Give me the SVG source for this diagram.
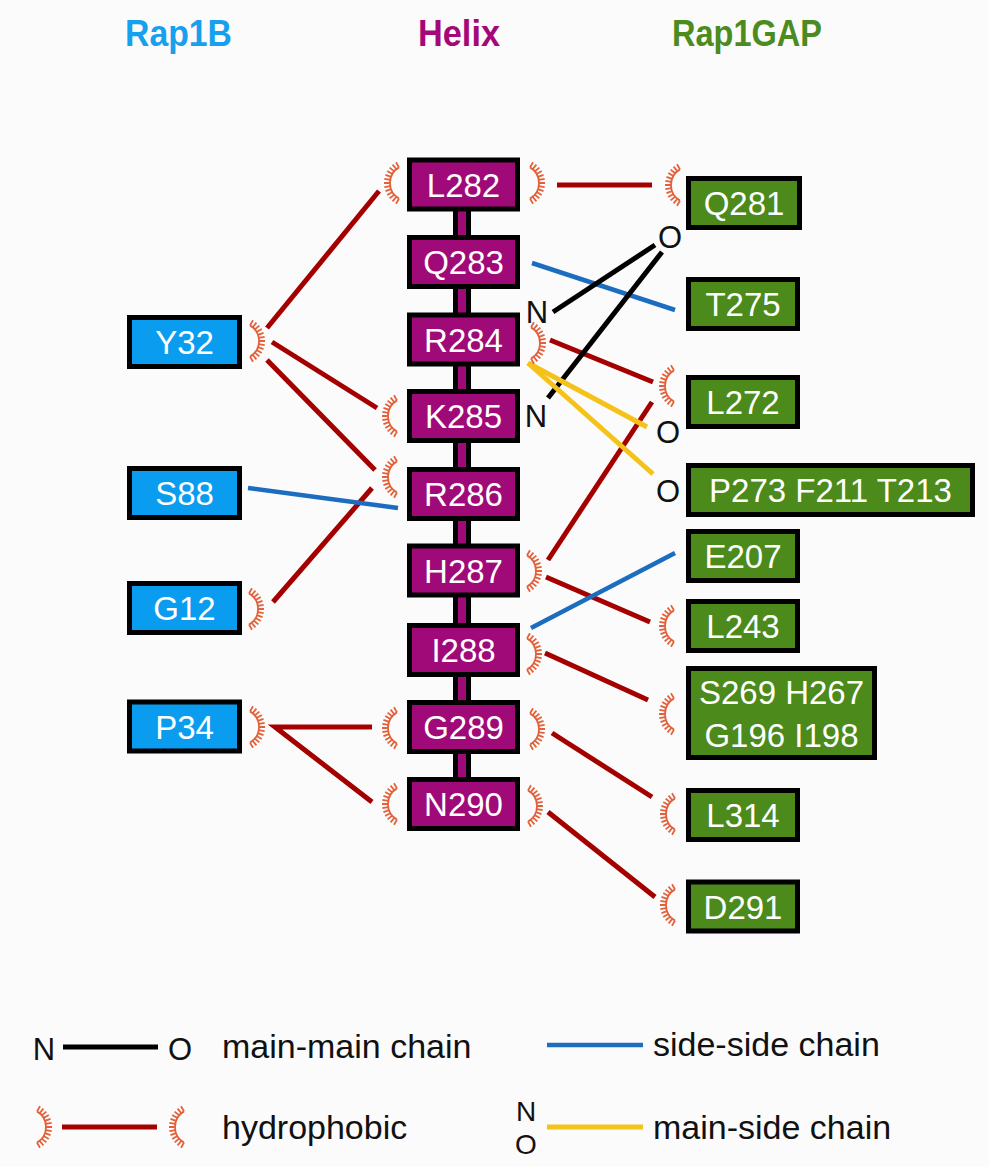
<svg xmlns="http://www.w3.org/2000/svg" xmlns:xlink="http://www.w3.org/1999/xlink" width="989" height="1167" viewBox="0 0 989 1167">
  <style>
    .hdr { font-family: "Liberation Sans", Arial, sans-serif; font-weight: bold; font-size: 36px; }
    .lbl { font-family: "Liberation Sans", Arial, sans-serif; font-size: 33px; fill: #ffffff; text-anchor: middle; }
    .atom { font-family: "Liberation Sans", Arial, sans-serif; font-size: 31px; fill: #111111; text-anchor: middle; }
    .atom-s { font-family: "Liberation Sans", Arial, sans-serif; font-size: 28px; fill: #111111; text-anchor: middle; }
    .leg { font-family: "Liberation Sans", Arial, sans-serif; font-size: 34px; fill: #111111; }
    .box { stroke: #000000; stroke-width: 5; }
    .rap { fill: #0a9cef; }
    .hel { fill: #a00a78; }
    .gap { fill: #4b8a1b; }
    .hyd { fill: none; stroke: #e2613a; stroke-width: 1.8; }
    .hp { stroke: #a50000; stroke-width: 5; fill: none; }
    .ss { stroke: #1c6cc0; stroke-width: 4.5; fill: none; }
    .mm { stroke: #000000; stroke-width: 5; fill: none; }
    .ms { stroke: #f5c21a; stroke-width: 5; fill: none; }
  </style>
  <defs>
    <!-- hydrophobic contact: arc with spokes, opening to the right -->
    <g id="hyd" class="hyd">
      <path d="M9,-15.6 A18,18 0 0 0 9,15.6"/>
      <path d="M0,0 H-6 M0.27,3.13 L-5.64,4.17 M0.27,-3.13 L-5.64,-4.17 M1.09,6.16 L-4.55,8.21 M1.09,-6.16 L-4.55,-8.21 M2.41,9 L-2.78,12 M2.41,-9 L-2.78,-12 M4.21,11.57 L-0.38,15.43 M4.21,-11.57 L-0.38,-15.43 M6.43,13.79 L2.57,18.38 M6.43,-13.79 L2.57,-18.38 M9,15.59 L6,20.78 M9,-15.59 L6,-20.78"/>
    </g>
  </defs>

  <rect width="989" height="1167" fill="#fbfbfb"/>

  <!-- column headings -->
  <g id="headings">
    <text class="hdr" x="125" y="46" fill="#17a0ee" textLength="107" lengthAdjust="spacingAndGlyphs">Rap1B</text>
    <text class="hdr" x="418" y="46" fill="#a5077a" textLength="82" lengthAdjust="spacingAndGlyphs">Helix</text>
    <text class="hdr" x="672" y="46" fill="#4b8b20" textLength="150" lengthAdjust="spacingAndGlyphs">Rap1GAP</text>
  </g>

  <!-- helix backbone -->
  <rect x="455.5" y="200" width="13" height="590" class="box hel"/>

  <g id="connectors">
    <!-- hydrophobic contacts -->
    <line class="hp" x1="557" y1="185" x2="652" y2="185"/>
    <line class="hp" x1="267" y1="328" x2="379" y2="191"/>
    <line class="hp" x1="272" y1="342" x2="377" y2="408"/>
    <line class="hp" x1="267" y1="360" x2="375" y2="470"/>
    <line class="hp" x1="273" y1="602" x2="372" y2="488"/>
    <line class="hp" x1="550" y1="340" x2="653" y2="382"/>
    <line class="hp" x1="548" y1="560" x2="652" y2="402"/>
    <line class="hp" x1="546" y1="577" x2="650" y2="622"/>
    <line class="hp" x1="545" y1="653" x2="648" y2="700"/>
    <polyline class="hp" points="372,727 275,727 372,802"/>
    <line class="hp" x1="552" y1="733" x2="652" y2="797"/>
    <line class="hp" x1="548" y1="812" x2="655" y2="897"/>
    <!-- side-side chain -->
    <line class="ss" x1="532" y1="263" x2="675" y2="310"/>
    <line class="ss" x1="248" y1="488" x2="398" y2="508"/>
    <line class="ss" x1="531" y1="628" x2="675" y2="553"/>
    <!-- main-main chain -->
    <line class="mm" x1="553" y1="312" x2="655" y2="245"/>
    <line class="mm" x1="548" y1="398" x2="662" y2="252"/>
    <!-- main-side chain -->
    <line class="ms" x1="528" y1="363" x2="647" y2="427"/>
    <line class="ms" x1="528" y1="363" x2="653" y2="474"/>

    <!-- atom labels -->
    <text class="atom" x="537" y="323">N</text>
    <text class="atom" x="536" y="427">N</text>
    <text class="atom" x="670" y="248">O</text>
    <text class="atom" x="668" y="443">O</text>
    <text class="atom" x="668" y="502">O</text>

    <!-- hydrophobic arcs opening right -->
    <use xlink:href="#hyd" href="#hyd" transform="translate(390,183)"/>
    <use xlink:href="#hyd" href="#hyd" transform="translate(388,416)"/>
    <use xlink:href="#hyd" href="#hyd" transform="translate(388,477)"/>
    <use xlink:href="#hyd" href="#hyd" transform="translate(388,728)"/>
    <use xlink:href="#hyd" href="#hyd" transform="translate(388,804)"/>
    <use xlink:href="#hyd" href="#hyd" transform="translate(671,185)"/>
    <use xlink:href="#hyd" href="#hyd" transform="translate(665,386)"/>
    <use xlink:href="#hyd" href="#hyd" transform="translate(665,626)"/>
    <use xlink:href="#hyd" href="#hyd" transform="translate(665,714)"/>
    <use xlink:href="#hyd" href="#hyd" transform="translate(666,814)"/>
    <use xlink:href="#hyd" href="#hyd" transform="translate(666,905)"/>
    <!-- hydrophobic arcs opening left -->
    <use xlink:href="#hyd" href="#hyd" transform="translate(259,341) scale(-1,1)"/>
    <use xlink:href="#hyd" href="#hyd" transform="translate(258,609) scale(-1,1)"/>
    <use xlink:href="#hyd" href="#hyd" transform="translate(259,727) scale(-1,1)"/>
    <use xlink:href="#hyd" href="#hyd" transform="translate(539,183) scale(-1,1)"/>
    <use xlink:href="#hyd" href="#hyd" transform="translate(540,343) scale(-1,1)"/>
    <use xlink:href="#hyd" href="#hyd" transform="translate(536,571) scale(-1,1)"/>
    <use xlink:href="#hyd" href="#hyd" transform="translate(536,654) scale(-1,1)"/>
    <use xlink:href="#hyd" href="#hyd" transform="translate(539,729) scale(-1,1)"/>
    <use xlink:href="#hyd" href="#hyd" transform="translate(537,806) scale(-1,1)"/>
  </g>

  <!-- Rap1B residues -->
  <g id="Y32"><rect class="box rap" x="129.5" y="317.5" width="110" height="49"/><text class="lbl" x="184.5" y="354">Y32</text></g>
  <g id="S88"><rect class="box rap" x="129.5" y="468.5" width="110" height="49"/><text class="lbl" x="184.5" y="505">S88</text></g>
  <g id="G12"><rect class="box rap" x="129.5" y="583.5" width="110" height="49"/><text class="lbl" x="184.5" y="620">G12</text></g>
  <g id="P34"><rect class="box rap" x="129.5" y="702" width="110" height="49"/><text class="lbl" x="184.5" y="738.5">P34</text></g>

  <!-- helix residues -->
  <g id="L282"><rect class="box hel" x="409.5" y="160" width="108" height="49"/><text class="lbl" x="463.5" y="196.5">L282</text></g>
  <g id="Q283"><rect class="box hel" x="409.5" y="237.5" width="108" height="49"/><text class="lbl" x="463.5" y="274">Q283</text></g>
  <g id="R284"><rect class="box hel" x="409.5" y="315" width="108" height="49"/><text class="lbl" x="463.5" y="351.5">R284</text></g>
  <g id="K285"><rect class="box hel" x="409.5" y="391.5" width="108" height="49"/><text class="lbl" x="463.5" y="428">K285</text></g>
  <g id="R286"><rect class="box hel" x="409.5" y="469.5" width="108" height="49"/><text class="lbl" x="463.5" y="506">R286</text></g>
  <g id="H287"><rect class="box hel" x="409.5" y="546" width="108" height="49"/><text class="lbl" x="463.5" y="582.5">H287</text></g>
  <g id="I288"><rect class="box hel" x="409.5" y="625.5" width="108" height="49"/><text class="lbl" x="463.5" y="662">I288</text></g>
  <g id="G289"><rect class="box hel" x="409.5" y="702.5" width="108" height="49"/><text class="lbl" x="463.5" y="739">G289</text></g>
  <g id="N290"><rect class="box hel" x="409.5" y="779.5" width="108" height="49"/><text class="lbl" x="463.5" y="816">N290</text></g>

  <!-- Rap1GAP residues -->
  <g id="Q281"><rect class="box gap" x="688.5" y="178.5" width="111" height="49"/><text class="lbl" x="744" y="215">Q281</text></g>
  <g id="T275"><rect class="box gap" x="688.5" y="279.5" width="109" height="49"/><text class="lbl" x="743" y="316">T275</text></g>
  <g id="L272"><rect class="box gap" x="688.5" y="377.5" width="109" height="49"/><text class="lbl" x="743" y="414">L272</text></g>
  <g id="P273"><rect class="box gap" x="688.5" y="465.5" width="284" height="49"/><text class="lbl" x="830.5" y="502">P273 F211 T213</text></g>
  <g id="E207"><rect class="box gap" x="688.5" y="531.5" width="109" height="49"/><text class="lbl" x="743" y="568">E207</text></g>
  <g id="L243"><rect class="box gap" x="688.5" y="601.5" width="109" height="49"/><text class="lbl" x="743" y="638">L243</text></g>
  <g id="S269"><rect class="box gap" x="688.5" y="668.5" width="186" height="89"/><text class="lbl" x="781.5" y="703.5">S269 H267</text><text class="lbl" x="781.5" y="746.5">G196 I198</text></g>
  <g id="L314"><rect class="box gap" x="688.5" y="790.5" width="109" height="49"/><text class="lbl" x="743" y="827">L314</text></g>
  <g id="D291"><rect class="box gap" x="688.5" y="882" width="109" height="49"/><text class="lbl" x="743" y="918.5">D291</text></g>

  <!-- key -->
  <g id="legend">
    <text class="atom" x="44" y="1060">N</text>
    <line class="mm" x1="63" y1="1047" x2="158" y2="1047"/>
    <text class="atom" x="180" y="1060">O</text>
    <text class="leg" x="222" y="1058">main-main chain</text>

    <use xlink:href="#hyd" href="#hyd" transform="translate(46,1127) scale(-1,1)"/>
    <line class="hp" x1="62" y1="1127" x2="157" y2="1127"/>
    <use xlink:href="#hyd" href="#hyd" transform="translate(175,1127)"/>
    <text class="leg" x="222" y="1139">hydrophobic</text>

    <line class="ss" x1="547" y1="1045" x2="643" y2="1045"/>
    <text class="leg" x="653" y="1056">side-side chain</text>

    <text class="atom-s" x="526" y="1121">N</text>
    <text class="atom-s" x="526" y="1154">O</text>
    <line class="ms" x1="547" y1="1127" x2="643" y2="1127"/>
    <text class="leg" x="653" y="1139">main-side chain</text>
  </g>
</svg>
